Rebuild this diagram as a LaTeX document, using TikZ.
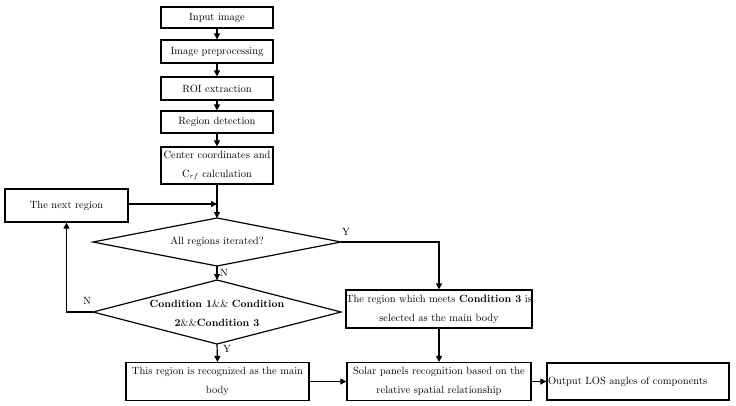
\documentclass[tikz,border=0pt]{standalone}
\usetikzlibrary{arrows.meta}
\begin{document}
\begin{tikzpicture}[x=1pt,y=-1pt,
  every node/.style={font=\fontsize{10.5}{19}\selectfont},
  box/.style={draw, line width=1.2pt, inner sep=0pt, align=center},
  conn/.style={line width=1.2pt},
  arr/.style={line width=1.2pt, -{Triangle[length=6pt,width=6pt]}},
  lbl/.style={inner sep=0pt}]
\useasboundingbox (0,0) rectangle (736,405);

\node[box, minimum width=112pt, minimum height=21pt] (in) at (217,17.5) {Input image};
\node[box, minimum width=112pt, minimum height=23pt] (pre) at (217,51.5) {Image preprocessing};
\node[box, minimum width=112pt, minimum height=23pt] (roi) at (217,88.5) {ROI extraction};
\node[box, minimum width=112pt, minimum height=22pt] (det) at (217,122) {Region detection};
\node[box, minimum width=112pt, minimum height=37pt] (ctr) at (217,165.5) {Center coordinates and\\C$_{rf}$ calculation};
\node[box, minimum width=123pt, minimum height=33pt] (next) at (66.5,205.5) {The next region};

% diamond 1
\coordinate (d1t) at (217,218);
\coordinate (d1b) at (217,266);
\coordinate (d1l) at (93,242);
\coordinate (d1r) at (341,242);
\draw[conn] (d1t) -- (d1r) -- (d1b) -- (d1l) -- cycle;
\node[lbl] (d1) at (217,242) {All regions iterated?};

% diamond 2
\coordinate (d2t) at (217,280);
\coordinate (d2b) at (217,344);
\coordinate (d2l) at (93,312);
\coordinate (d2r) at (341,312);
\draw[conn] (d2t) -- (d2r) -- (d2b) -- (d2l) -- cycle;
\node[lbl, align=center] (d2) at (217,313) {\textbf{Condition 1}\&\& \textbf{Condition}\\\textbf{2}\&\&\textbf{Condition 3}};

\node[box, minimum width=183pt, minimum height=38pt] (sel) at (439,309) {The region which meets \textbf{Condition 3} is\\selected as the main body};
\node[box, minimum width=183pt, minimum height=38pt] (this) at (217.5,381.5) {This region is recognized as the main\\body};
\node[box, minimum width=184pt, minimum height=38pt] (solar) at (439,381.5) {Solar panels recognition based on the\\relative spatial relationship};
\node[box, minimum width=182pt, minimum height=37pt, text width=180pt, align=left, inner xsep=1pt] (out) at (638,381.5) {Output LOS angles of components};

% connectors
\draw[arr] (in) -- (pre);
\draw[arr] (pre) -- (roi);
\draw[arr] (roi) -- (det);
\draw[arr] (det) -- (ctr);
\draw[arr] (ctr.south) -- (d1t);
\draw[arr] (next.east |- 0,204) -- (217,204);
\draw[arr] (d1r) -| (sel.north);
\draw[arr] (d1b) -- (d2t);
\draw[arr] (d2l) -| (next.south);
\draw[arr] (d2b) -- (this.north);
\draw[arr] (this.east) -- (solar.west);
\draw[arr] (sel.south) -- (solar.north);
\draw[arr] (solar.east) -- (out.west);

% labels
\node[lbl] (y1) at (346,232) {Y};
\node[lbl] (n1) at (224,273) {N};
\node[lbl] (n2) at (87,301) {N};
\node[lbl] (y2) at (227,349) {Y};
\end{tikzpicture}
\end{document}
